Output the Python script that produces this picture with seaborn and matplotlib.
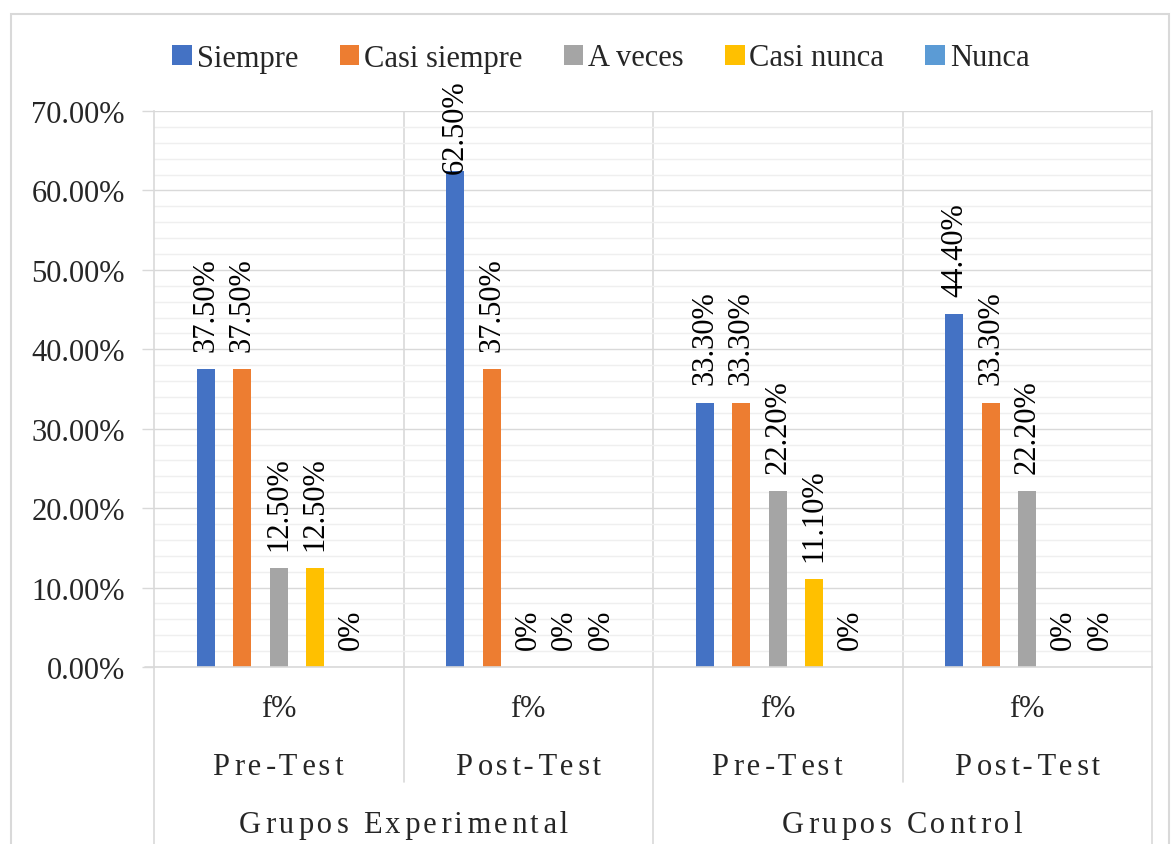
import matplotlib
matplotlib.use("Agg")
import matplotlib.pyplot as plt
import matplotlib.transforms as mtransforms
from matplotlib.patches import Patch, Rectangle
from matplotlib.lines import Line2D
from matplotlib.ticker import MultipleLocator, FuncFormatter
import seaborn as sns
import pandas as pd

# ---------------- data ----------------
series = ["Siempre", "Casi siempre", "A veces", "Casi nunca", "Nunca"]
groups = ["EP", "EPost", "CP", "CPost"]
level1 = ["f%", "f%", "f%", "f%"]
level2 = ["Pre-Test", "Post-Test", "Pre-Test", "Post-Test"]
level3 = ["Grupos Experimental", "Grupos Control"]
siempre = [37.5, 62.5, 33.3, 44.4]
casi_siempre = [37.5, 37.5, 33.3, 33.3]
a_veces = [12.5, 0.0, 22.2, 22.2]
casi_nunca = [12.5, 0.0, 11.1, 0.0]
nunca = [0.0, 0.0, 0.0, 0.0]
colors = ["#4472C4", "#ED7D31", "#A5A5A5", "#FFC000", "#5B9BD5"]

values = [siempre, casi_siempre, a_veces, casi_nunca, nunca]
rows = []
for s, vals in zip(series, values):
    for g, v in zip(groups, vals):
        rows.append({"grupo": g, "serie": s, "valor": v})
df = pd.DataFrame(rows)

# ---------------- style ----------------
sns.set_style("white")
plt.rcParams["font.family"] = ["Liberation Serif", "DejaVu Serif"]
FS = 22
GRID = "#D9D9D9"

W, H = 1171, 845
fig = plt.figure(figsize=(W / 100, H / 100), dpi=100)
L, R, T, B = 154, 1152, 112, 668
ax = fig.add_axes([L / W, (H - B) / H, (R - L) / W, (B - T) / H])

sns.barplot(data=df, x="grupo", y="valor", hue="serie", order=groups,
            hue_order=series, palette=colors, width=0.73, ax=ax,
            legend=False, saturation=1, linewidth=0)

# narrow bars, keep centers
bw = 0.072
for cont in ax.containers:
    for p in cont:
        c = p.get_x() + p.get_width() / 2
        p.set_width(bw)
        p.set_x(c - bw / 2)

# data labels
anns = []
for cont, vals in zip(ax.containers, values):
    labs = [("0%" if v == 0 else f"{v:.2f}%") for v in vals]
    anns += ax.bar_label(cont, labels=labs, rotation=90, padding=13,
                         fontsize=FS, color="black")

ax.set_xlim(-0.5, 3.5)
ax.set_ylim(0, 70)
ax.yaxis.set_major_locator(MultipleLocator(10))
ax.yaxis.set_minor_locator(MultipleLocator(2))
ax.yaxis.set_major_formatter(FuncFormatter(lambda v, p: f"{v:.2f}%"))
ax.grid(axis="y", which="major", color=GRID, lw=1.0)
ax.grid(axis="y", which="minor", color="#EFEFEF", lw=1.0)
ax.set_axisbelow(True)
ax.tick_params(axis="y", which="major", length=9, width=1, color=GRID,
               labelsize=FS, pad=12, left=True)
ax.tick_params(axis="y", which="minor", length=0)
ax.tick_params(axis="x", length=0, labelbottom=False)
ax.set_xlabel("")
ax.set_ylabel("")
ax.spines["top"].set_visible(False)
for sp in ["left", "right", "bottom"]:
    ax.spines[sp].set_color(GRID)
    ax.spines[sp].set_linewidth(1.2)

# vertical separators inside plot
for xv in [0.5, 1.5, 2.5]:
    ax.axvline(xv, color=GRID, lw=1.2, zorder=0.5)

# multi-level category axis
bt = mtransforms.blended_transform_factory(ax.transData, ax.transAxes)
ah = B - T
def yax(py):
    return -(py - B) / ah

for xv in [-0.5, 1.5, 3.5]:
    ax.add_line(Line2D([xv, xv], [0, yax(845)], transform=bt, color=GRID,
                       lw=1.2, clip_on=False))
for xv in [0.5, 2.5]:
    ax.add_line(Line2D([xv, xv], [0, yax(783)], transform=bt, color=GRID,
                       lw=1.2, clip_on=False))
ax.add_line(Line2D([-0.5 - 9 / 250, -0.5], [0, 0], transform=bt,
                   color=GRID, lw=1.2, clip_on=False))

def spaced(s):
    out = s[0]
    for k, ch in enumerate(s[1:]):
        out += ("\u200a\u200a" if k % 2 == 0 else "\u200a") + ch
    return out

for i in range(4):
    ax.text(i, yax(710), level1[i], transform=bt, ha="center", va="center",
            fontsize=FS)
    ax.text(i, yax(768), spaced(level2[i]), transform=bt, ha="center",
            va="center", fontsize=FS)
for j, lab in enumerate(level3):
    ax.text(0.5 + 2 * j, yax(826), spaced(lab), transform=bt, ha="center",
            va="center", fontsize=FS)

# legend
handles = [Patch(facecolor=c, edgecolor="none") for c in colors]
fig.legend(handles, series, loc="center", bbox_to_anchor=(601 / W, 1 - 59 / H),
           ncol=5, frameon=False, fontsize=FS, handlelength=0.65,
           handleheight=0.65, handletextpad=0.15, columnspacing=1.35,
           borderaxespad=0, borderpad=0)

# keep data labels inside the chart area (Excel behaviour)
fig.canvas.draw()
r = fig.canvas.get_renderer()
top_limit = H - 80
for a in anns:
    bb = a.get_window_extent(r)
    if bb.y1 > top_limit:
        dx, dy = a.xyann
        a.xyann = (dx, dy - (bb.y1 - top_limit) * 72 / 100)

# outer chart border
fig.add_artist(Rectangle((11 / W, -0.05), (1169 - 11) / W, 1.05 - 15 / H,
                         transform=fig.transFigure, fill=False,
                         edgecolor="#D9D9D9", lw=1.5))

fig.savefig("out.png", dpi=100)
